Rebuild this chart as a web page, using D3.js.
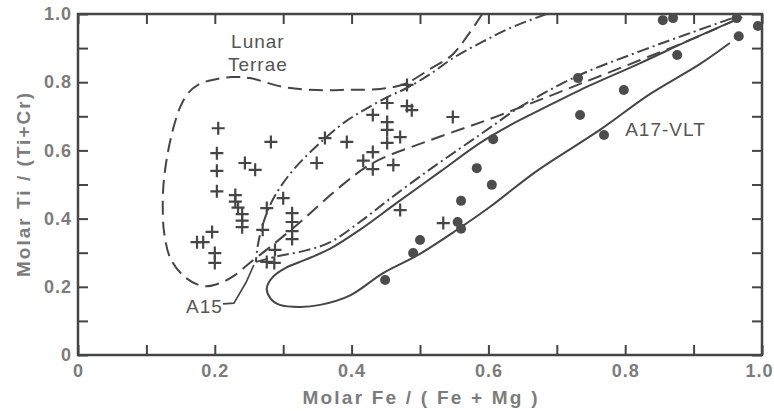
<!DOCTYPE html>
<html>
<head>
<meta charset="utf-8">
<script src="https://cdnjs.cloudflare.com/ajax/libs/d3/7.8.5/d3.min.js"></script>
<style>
body { margin: 0; background: #fff; }
svg { display: block; font-family: "Liberation Sans", Arial, sans-serif; }
</style>
</head>
<body>
<svg id="chart" width="774" height="411"></svg>
<script>
// ticks
var tickValues = [0, 0.1, 0.2, 0.3, 0.4, 0.5, 0.6, 0.7, 0.8, 0.9, 1.0];
var labelledTicks = [0, 0.2, 0.4, 0.6, 0.8, 1.0];
var tickLabels = ["0", "0.2", "0.4", "0.6", "0.8", "1.0"];

// pyroxene analyses (Fe/(Fe+Mg), Ti/(Ti+Cr))
var crosses = [
    [0.205, 0.665], [0.203, 0.592], [0.203, 0.540], [0.203, 0.480],
    [0.244, 0.563], [0.259, 0.543], [0.230, 0.469], [0.230, 0.450],
    [0.234, 0.432], [0.240, 0.413], [0.240, 0.394], [0.240, 0.375],
    [0.196, 0.361], [0.174, 0.331], [0.183, 0.331], [0.200, 0.299],
    [0.200, 0.270], [0.300, 0.460], [0.276, 0.431], [0.270, 0.367],
    [0.313, 0.416], [0.313, 0.390], [0.313, 0.363], [0.313, 0.340],
    [0.288, 0.308], [0.276, 0.273], [0.287, 0.270], [0.282, 0.625],
    [0.361, 0.636], [0.393, 0.625], [0.349, 0.563], [0.481, 0.792],
    [0.452, 0.739], [0.481, 0.730], [0.488, 0.718], [0.431, 0.704],
    [0.452, 0.683], [0.452, 0.660], [0.471, 0.639], [0.452, 0.622],
    [0.431, 0.595], [0.417, 0.570], [0.431, 0.545], [0.461, 0.557],
    [0.548, 0.698], [0.471, 0.425], [0.534, 0.387]
];
var dots = [
    [0.855, 0.982], [0.870, 0.988], [0.963, 0.988], [0.994, 0.965],
    [0.966, 0.935], [0.876, 0.880], [0.731, 0.812], [0.798, 0.777],
    [0.734, 0.704], [0.769, 0.645], [0.607, 0.633], [0.583, 0.548],
    [0.605, 0.499], [0.560, 0.452], [0.555, 0.390], [0.560, 0.370],
    [0.500, 0.337], [0.490, 0.299], [0.449, 0.220]
];

// field outlines
var lunarTerrae = [
    [0.591, 1.000], [0.570, 0.938], [0.547, 0.880], [0.515, 0.839],
    [0.478, 0.795], [0.442, 0.780], [0.398, 0.778], [0.349, 0.777],
    [0.300, 0.786], [0.251, 0.812], [0.225, 0.815], [0.200, 0.808],
    [0.178, 0.795], [0.162, 0.770], [0.150, 0.730], [0.140, 0.670],
    [0.131, 0.590], [0.125, 0.500], [0.124, 0.420], [0.126, 0.358],
    [0.135, 0.284], [0.156, 0.229], [0.183, 0.202], [0.208, 0.211],
    [0.230, 0.235], [0.251, 0.270], [0.281, 0.317], [0.325, 0.390],
    [0.383, 0.493], [0.431, 0.563], [0.515, 0.630], [0.598, 0.689],
    [0.675, 0.748], [0.734, 0.795], [0.822, 0.865], [0.895, 0.924],
    [0.961, 0.982]
];
var a15Upper = [
    [0.685, 1.000], [0.632, 0.959], [0.591, 0.918], [0.551, 0.874],
    [0.515, 0.824], [0.481, 0.783], [0.456, 0.760], [0.423, 0.724],
    [0.390, 0.683], [0.358, 0.630], [0.317, 0.548], [0.295, 0.490],
    [0.281, 0.440], [0.270, 0.381], [0.263, 0.323], [0.260, 0.273]
];
var a15Lower = [
    [0.260, 0.273], [0.295, 0.291], [0.332, 0.306], [0.368, 0.330],
    [0.412, 0.390], [0.456, 0.458], [0.515, 0.545], [0.563, 0.612],
    [0.602, 0.666], [0.646, 0.727], [0.730, 0.818], [0.822, 0.891],
    [0.895, 0.944], [0.961, 0.991]
];
var a17Vlt = [
    [0.971, 0.991], [0.895, 0.924], [0.822, 0.856], [0.734, 0.777],
    [0.675, 0.718], [0.632, 0.674], [0.588, 0.622], [0.529, 0.537],
    [0.466, 0.446], [0.412, 0.367], [0.368, 0.311], [0.332, 0.279],
    [0.303, 0.255], [0.285, 0.229], [0.276, 0.196], [0.281, 0.167],
    [0.295, 0.147], [0.325, 0.141], [0.354, 0.147], [0.398, 0.175],
    [0.446, 0.240], [0.496, 0.292], [0.554, 0.367], [0.602, 0.434],
    [0.671, 0.540], [0.763, 0.660], [0.836, 0.765], [0.909, 0.853],
    [0.953, 0.915]
];
var a15Leader = [[0.212, 0.150], [0.228, 0.152], [0.246, 0.214], [0.257, 0.264]];

var fieldLabels = [
    { text: "Lunar", x: 0.263, y: 0.900 },
    { text: "Terrae", x: 0.263, y: 0.833 },
    { text: "A15", x: 0.158, y: 0.123, anchor: "start" },
    { text: "A17-VLT", x: 0.800, y: 0.642, anchor: "start" }
];

var margin = { top: 14, right: 12, bottom: 56, left: 78 };
var width = 774 - margin.left - margin.right,
    height = 411 - margin.top - margin.bottom;

var svg = d3.select("#chart");
var g = svg.append("g").attr("transform", "translate(" + margin.left + "," + margin.top + ")");

var x = d3.scaleLinear().domain([0, 1]).range([0, width]);
var y = d3.scaleLinear().domain([0, 1]).range([height, 0]);

var ink = "#454545";
var fmt = function(d) {
    var i = labelledTicks.findIndex(function(t) { return Math.abs(t - d) < 1e-9; });
    return i < 0 ? "" : tickLabels[i];
};

function styleAxis(sel) {
    sel.select(".domain").remove();
    sel.selectAll(".tick line").attr("stroke", ink).attr("stroke-width", 2);
    sel.selectAll(".tick text")
        .attr("fill", "#7c7c7c")
        .style("font-size", "18px")
        .style("font-weight", "bold")
        .style("letter-spacing", "1px");
}

var xAxis = g.append("g").attr("transform", "translate(0," + height + ")")
    .call(d3.axisBottom(x).tickValues(tickValues).tickSize(-10).tickPadding(9).tickFormat(fmt))
    .call(styleAxis);
// the last label sits against the page edge
xAxis.selectAll(".tick text").filter(function(d) { return d === 1.0; }).attr("dx", -3);

g.append("g")
    .call(d3.axisLeft(y).tickValues(tickValues).tickSize(-10).tickPadding(6).tickFormat(fmt))
    .call(styleAxis);
g.append("g")
    .call(d3.axisTop(x).tickValues(tickValues).tickSize(-10).tickFormat(""))
    .call(styleAxis);
g.append("g").attr("transform", "translate(" + width + ",0)")
    .call(d3.axisRight(y).tickValues(tickValues).tickSize(-10).tickFormat(""))
    .call(styleAxis);

g.append("rect")
    .attr("width", width).attr("height", height)
    .attr("fill", "none").attr("stroke", ink).attr("stroke-width", 2.5);

g.append("clipPath").attr("id", "plotclip")
    .append("rect").attr("y", -2).attr("width", width + 2).attr("height", height + 2);

var line = d3.line()
    .x(function(d) { return x(d[0]); })
    .y(function(d) { return y(d[1]); })
    .curve(d3.curveCatmullRom.alpha(0.5));

var fields = g.append("g").attr("clip-path", "url(#plotclip)")
    .attr("fill", "none").attr("stroke", ink).attr("stroke-width", 2);

fields.append("path").datum(lunarTerrae).attr("d", line).attr("stroke-dasharray", "14,7");
fields.append("path").datum(a15Upper).attr("d", line).attr("stroke-dasharray", "12,4,2,4");
fields.append("path").datum(a15Lower).attr("d", line).attr("stroke-dasharray", "12,4,2,4");
fields.append("path").datum(a17Vlt).attr("d", line);
fields.append("path").datum(a15Leader).attr("d", d3.line()
    .x(function(d) { return x(d[0]); })
    .y(function(d) { return y(d[1]); })).attr("stroke-width", 1.6);

g.append("g").selectAll("path.cross")
    .data(crosses)
    .enter().append("path")
    .attr("class", "cross")
    .attr("transform", function(d) { return "translate(" + x(d[0]) + "," + y(d[1]) + ")"; })
    .attr("d", "M-6.5,0H6.5M0,-6.5V6.5")
    .attr("stroke", ink).attr("stroke-width", 2.2);

g.append("g").attr("clip-path", "url(#plotclip)").selectAll("circle")
    .data(dots)
    .enter().append("circle")
    .attr("cx", function(d) { return x(d[0]); })
    .attr("cy", function(d) { return y(d[1]); })
    .attr("r", 5)
    .attr("fill", "#4c4c4c");

g.append("g").selectAll("text")
    .data(fieldLabels)
    .enter().append("text")
    .attr("x", function(d) { return x(d.x); })
    .attr("y", function(d) { return y(d.y); })
    .attr("text-anchor", function(d) { return d.anchor || "middle"; })
    .attr("fill", "#555")
    .style("font-size", "19px")
    .style("letter-spacing", "1px")
    .text(function(d) { return d.text; });

// axis titles
svg.append("text")
    .attr("x", 420).attr("y", 404)
    .attr("text-anchor", "middle")
    .attr("fill", "#7c7c7c")
    .attr("textLength", 235).attr("lengthAdjust", "spacing")
    .style("font-size", "19px").style("font-weight", "bold")
    .text("Molar  Fe / ( Fe + Mg )");
svg.append("text")
    .attr("transform", "translate(30,185) rotate(-90)")
    .attr("text-anchor", "middle")
    .attr("fill", "#7c7c7c")
    .attr("textLength", 184).attr("lengthAdjust", "spacing")
    .style("font-size", "19px").style("font-weight", "bold")
    .text("Molar Ti / (Ti+Cr)");
</script>
</body>
</html>
